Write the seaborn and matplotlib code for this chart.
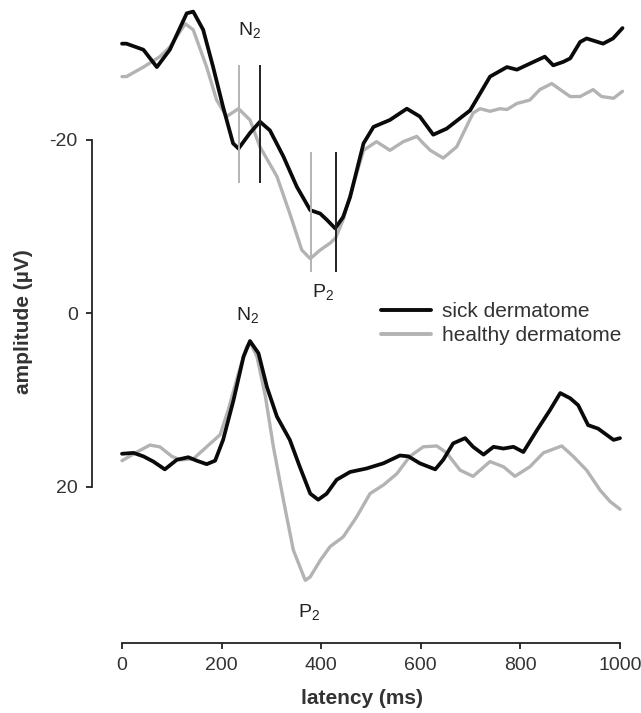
import matplotlib
matplotlib.use("Agg")
import matplotlib.pyplot as plt
import seaborn as sns
import pandas as pd
from matplotlib.lines import Line2D

sns.set_theme(style="white")
plt.rcParams['font.family'] = ['Liberation Sans', 'DejaVu Sans']

# ---------------- data (latency in ms, amplitude in µV; y axis is inverted) ----------------
# upper pair of traces
up_sick_t = [0, 9, 43, 70, 96, 130, 143, 163, 183, 203, 223, 234, 257, 277, 297, 324, 351,
             378, 398, 411, 428, 444, 458, 485, 505, 538, 572, 598, 625, 652, 699, 739, 773,
             793, 819, 849, 866, 886, 900, 920, 933, 966, 986, 1005]
up_sick_v = [-31.1, -31.1, -30.4, -28.4, -30.4, -34.6, -34.8, -32.7, -28.4, -23.8, -19.6, -19.0,
             -20.8, -22.1, -21.1, -18.1, -14.6, -11.9, -11.5, -10.8, -9.8, -11.1, -13.4, -19.6,
             -21.5, -22.3, -23.6, -22.7, -20.6, -21.3, -23.4, -27.3, -28.4, -28.1, -28.8, -29.6,
             -28.6, -29.0, -29.4, -31.3, -31.7, -31.1, -31.7, -32.9]
up_healthy_t = [0, 9, 43, 76, 96, 127, 143, 170, 190, 210, 234, 257, 277, 311, 337, 361, 378,
                398, 418, 429, 444, 458, 485, 511, 538, 565, 592, 605, 619, 645, 672, 705, 719,
                739, 759, 773, 793, 819, 839, 863, 880, 900, 920, 946, 963, 987, 1005]
up_healthy_v = [-27.3, -27.3, -28.4, -29.6, -30.7, -33.4, -32.7, -28.4, -24.6, -22.7, -23.6,
                -22.3, -19.2, -15.8, -11.5, -7.3, -6.3, -7.3, -8.1, -8.7, -10.8, -13.6, -18.8,
                -19.8, -18.8, -19.8, -20.4, -19.6, -18.8, -17.9, -19.2, -23.1, -23.6, -23.3,
                -23.6, -23.5, -24.2, -24.6, -25.8, -26.5, -25.8, -25.0, -25.0, -25.8, -25.0,
                -24.8, -25.6]
# lower pair of traces
lo_sick_t = [0, 23, 43, 63, 86, 110, 133, 150, 170, 187, 203, 224, 244, 257, 274, 291, 311,
             337, 357, 378, 394, 411, 431, 458, 491, 525, 558, 575, 598, 629, 645, 665, 689,
             705, 726, 746, 766, 786, 806, 833, 859, 880, 900, 916, 936, 956, 987, 1000]
lo_sick_v = [16.2, 16.1, 16.5, 17.1, 18.0, 16.9, 16.6, 17.0, 17.4, 17.0, 14.6, 10.0, 5.0, 3.2,
             4.6, 8.5, 11.9, 14.6, 17.7, 20.8, 21.5, 20.8, 19.2, 18.3, 17.9, 17.3, 16.4, 16.5,
             17.3, 18.0, 16.9, 15.0, 14.4, 15.4, 16.3, 15.4, 15.6, 15.4, 16.0, 13.5, 11.2, 9.2,
             9.8, 10.6, 12.9, 13.3, 14.6, 14.4]
lo_healthy_t = [0, 30, 56, 76, 100, 117, 143, 170, 197, 213, 234, 250, 257, 271, 288, 304, 324,
                344, 368, 378, 398, 418, 444, 471, 498, 525, 552, 578, 605, 632, 652, 679, 705,
                739, 766, 789, 819, 846, 883, 906, 933, 960, 980, 1000]
lo_healthy_v = [17.0, 16.0, 15.2, 15.4, 16.5, 16.9, 16.8, 15.4, 14.0, 11.2, 6.9, 3.9, 3.3, 5.0,
                9.6, 15.4, 21.5, 27.3, 30.8, 30.4, 28.5, 26.9, 25.8, 23.5, 20.8, 19.8, 18.5,
                16.5, 15.4, 15.3, 16.1, 18.1, 18.8, 17.1, 17.7, 18.8, 17.7, 16.1, 15.3, 16.5,
                18.1, 20.4, 21.7, 22.6]

series_labels = ["sick dermatome", "healthy dermatome"]
x_ticks = [0, 200, 400, 600, 800, 1000]
y_ticks = [-20, 0, 20]

# marker lines on the upper traces
mark_sick_t = [277, 429]
mark_healthy_t = [234, 380]
mark_n2_span = [-28.6, -15.0]
mark_p2_span = [-18.6, -4.8]

# ---------------- figure ----------------
W, H = 641, 713
fig = plt.figure(figsize=(W / 100, H / 100), dpi=100)
left_px, right_px, top_px, bot_px = 91.7, 632, 0, 643
ax = fig.add_axes([left_px / W, 1 - bot_px / H, (right_px - left_px) / W, (bot_px - top_px) / H])

x0_px, xs = 122.0, 0.498      # px for 0 ms, px per ms
y0_px, ys = 313.3, 8.67       # px for 0 µV, px per µV
ax.set_xlim((left_px - x0_px) / xs, (right_px - x0_px) / xs)
ax.set_ylim((bot_px - y0_px) / ys, (top_px - y0_px) / ys)

BLACK = "#0a0a0a"
GREY = "#b3b3b3"
line_kw = dict(sort=False, solid_joinstyle="round", solid_capstyle="round")

sns.lineplot(x=up_healthy_t, y=up_healthy_v, ax=ax, color=GREY, lw=2.4, **line_kw)
sns.lineplot(x=up_sick_t, y=up_sick_v, ax=ax, color=BLACK, lw=2.7, **line_kw)
sns.lineplot(x=lo_healthy_t, y=lo_healthy_v, ax=ax, color=GREY, lw=2.4, **line_kw)
sns.lineplot(x=lo_sick_t, y=lo_sick_v, ax=ax, color=BLACK, lw=2.7, **line_kw)

# vertical latency markers
ax.vlines(mark_healthy_t[0], *mark_n2_span, color=GREY, lw=1.4)
ax.vlines(mark_sick_t[0], *mark_n2_span, color="#222222", lw=1.4)
ax.vlines(mark_healthy_t[1], *mark_p2_span, color=GREY, lw=1.4)
ax.vlines(mark_sick_t[1], *mark_p2_span, color="#222222", lw=1.4)

ann_kw = dict(fontsize=14, color="#222222", ha="center", va="center")
ax.text(257, -32.6, r"N$_\mathregular{2}$", **ann_kw)
ax.text(403, -2.4, r"P$_\mathregular{2}$", **ann_kw)
ax.text(252, 0.3, r"N$_\mathregular{2}$", **ann_kw)
ax.text(375, 34.6, r"P$_\mathregular{2}$", **ann_kw)

# axes styling
for s in ["top", "right"]:
    ax.spines[s].set_visible(False)
for s in ["left", "bottom"]:
    ax.spines[s].set_color("#222222")
    ax.spines[s].set_linewidth(1.3)
ax.spines["left"].set_bounds(-20, 20)
ax.spines["bottom"].set_bounds(0, 1000)
ax.set_xticks(x_ticks)
ax.set_yticks(y_ticks)
ax.set_xticklabels([str(v) for v in x_ticks])
ax.set_yticklabels([str(v) for v in y_ticks])
ax.tick_params(axis="both", direction="out", length=4, width=1.3, colors="#222222",
               labelsize=14, labelcolor="#333333", pad=6, left=True, bottom=True)
ax.set_xlabel("latency (ms)", fontsize=15, fontweight="bold", color="#333333", labelpad=11)
ax.set_ylabel("amplitude (µV)", fontsize=15, fontweight="bold", color="#333333", labelpad=12)
ax.grid(False)

handles = [Line2D([], [], color=BLACK, lw=2.8), Line2D([], [], color=GREY, lw=2.8)]
ax.legend(handles, series_labels, loc="upper left", frameon=False, fontsize=15,
          bbox_to_anchor=(381 / W, 1 - 302 / H), bbox_transform=fig.transFigure,
          borderpad=0, borderaxespad=0, handlelength=2.4, handletextpad=0.55,
          labelspacing=0.25, labelcolor="#333333")

fig.savefig("out.png", dpi=100)
